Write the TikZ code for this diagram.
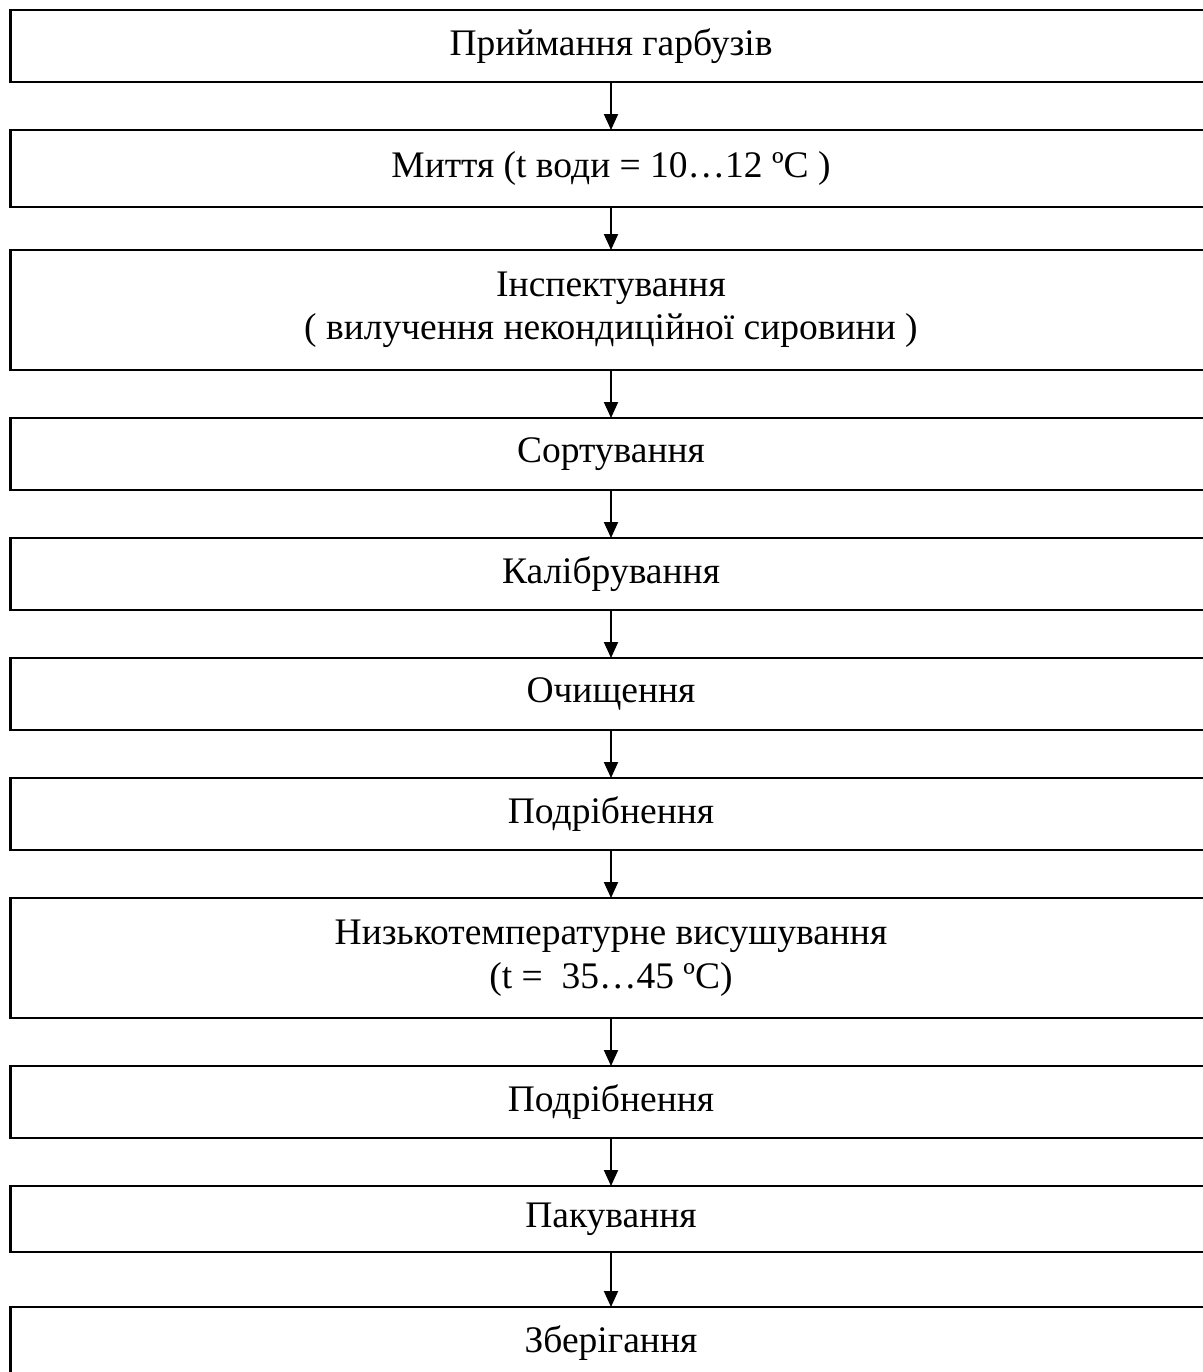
\documentclass[tikz,border=0pt]{standalone}
\usepackage{fontspec}
\setmainfont{Liberation Serif}
\usetikzlibrary{positioning,arrows.meta}
\tikzset{
    every node/.style={font=\fontsize{15pt}{17.4pt}\selectfont},
    stagebox/.style={draw=black, line width=0.9pt, outer sep=0pt, minimum width=480.4pt, minimum height=28.8pt, align=center, inner sep=2pt},
    arrow/.style={-{Triangle[length=6.4pt,width=5.6pt]}, line width=0.8pt},
}

\begin{document}
\begin{tikzpicture}
\useasboundingbox (0,0) rectangle (481.2pt,-548.8pt);
% stages of the pumpkin line, one under another, centred on the same axis
   \node[stagebox] (recv) at (244.4pt,-18.4pt) {Приймання гарбузів};
   \node[stagebox, minimum height=30.8pt, below=19.2pt of recv] (wash) {Миття (t води = 10…12 ºC )};
   \node[stagebox, minimum height=48pt, below=17.2pt of wash] (insp) {Інспектування\\( вилучення некондиційної сировини )};
   \node[stagebox, below=19.2pt of insp] (sort) {Сортування};
   \node[stagebox, below=19.2pt of sort] (calib) {Калібрування};
   \node[stagebox, below=19.2pt of calib] (clean) {Очищення};
   \node[stagebox, below=19.2pt of clean] (chop1) {Подрібнення};
   \node[stagebox, minimum height=48pt, below=19.2pt of chop1] (dry) {Низькотемпературне висушування\\(t = \ 35…45 ºC)};
   \node[stagebox, below=19.2pt of dry] (chop2) {Подрібнення};
   \node[stagebox, minimum height=26.4pt, below=19.2pt of chop2] (pack) {Пакування};
   \node[stagebox, below=22pt of pack] (store) {Зберігання};
% arrows between the stages
   \draw[arrow] (recv) -- (wash);
   \draw[arrow] (wash) -- (insp);
   \draw[arrow] (insp) -- (sort);
   \draw[arrow] (sort) -- (calib);
   \draw[arrow] (calib) -- (clean);
   \draw[arrow] (clean) -- (chop1);
   \draw[arrow] (chop1) -- (dry);
   \draw[arrow] (dry) -- (chop2);
   \draw[arrow] (chop2) -- (pack);
   \draw[arrow] (pack) -- (store);
\end{tikzpicture}
\end{document}
